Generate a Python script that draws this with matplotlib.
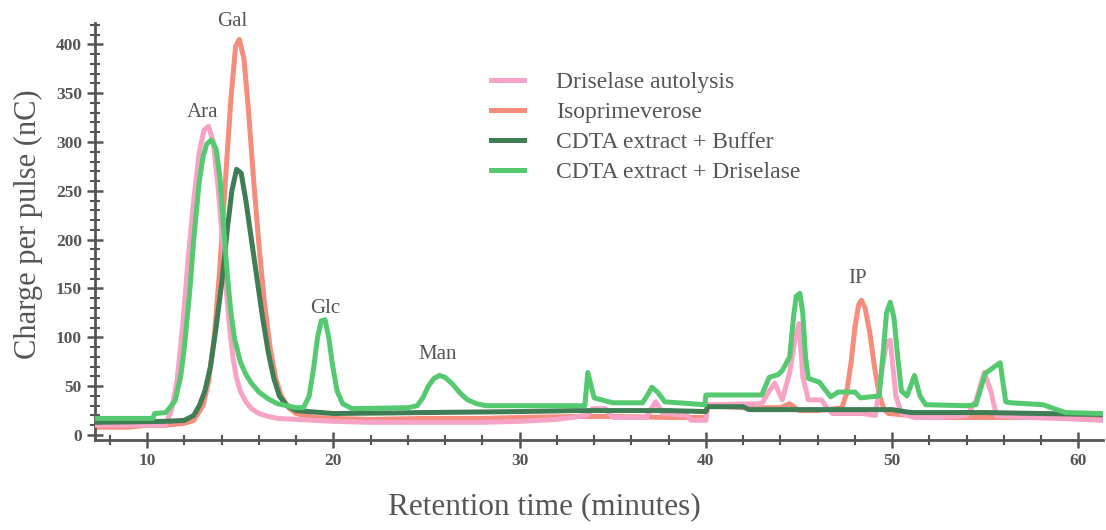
import numpy as np
import matplotlib
matplotlib.use('Agg')
import matplotlib.pyplot as plt
from matplotlib.ticker import MultipleLocator

# retention time (min) and charge (nC)
autolysis_t = [7.2, 10.0, 11.0, 11.3, 11.6, 11.9, 12.2, 12.5, 12.8, 13.05, 13.3, 13.55, 13.8, 14.0,
               14.2, 14.4, 14.6, 14.8, 15.0, 15.3, 15.6, 16.0, 16.5, 17.0, 18.0, 20.0, 22.0,
               25.0, 28.0, 30.0, 32.0, 33.6, 33.9, 34.6, 35.0, 36.8, 37.3, 37.7, 39.0, 39.2,
               40.0, 40.1, 43.0, 43.4, 43.7, 44.1, 44.5, 44.8, 45.0, 45.2, 45.5, 46.2, 46.5,
               46.8, 48.4, 49.1, 49.4, 49.7, 49.9, 50.2, 50.5, 51.2, 52.7, 54.0, 54.5, 54.95,
               55.3, 55.6, 57.0, 59.0, 61.3]
autolysis_y = [10, 10, 11, 25, 55, 110, 180, 240, 290, 312, 316, 300, 255, 210,
               160, 115, 80, 58, 45, 34, 27, 22, 19, 17, 16, 14, 13,
               13, 13, 14, 16, 20, 27, 27, 18, 18, 34, 22, 20, 15,
               15, 31, 32, 45, 53, 36, 64, 100, 114, 60, 36, 36, 28,
               22, 22, 20, 60, 95, 97, 40, 22, 18, 18, 20, 35, 64,
               45, 20, 18, 17, 15]

isoprim_t = [7.2, 9.0, 10.0, 11.0, 12.0, 12.5, 13.0, 13.3, 13.6, 13.9, 14.2, 14.5, 14.75, 14.95,
             15.2, 15.45, 15.7, 16.0, 16.3, 16.6, 16.9, 17.2, 17.6, 18.0, 19.0, 20.0, 22.0,
             25.0, 28.0, 30.0, 33.0, 35.0, 38.0, 40.0, 40.1, 42.0, 44.0, 44.5, 45.0, 46.0,
             47.0, 47.3, 47.55, 47.8, 48.0, 48.2, 48.35, 48.55, 48.8, 49.05, 49.3, 49.55, 49.8,
             51.0, 52.0, 56.0, 58.0, 61.3]
isoprim_y = [8, 8, 10, 10, 12, 15, 30, 55, 100, 170, 260, 345, 398, 405,
             385, 330, 265, 195, 135, 90, 58, 40, 28, 22, 18, 17, 16,
             17, 17, 18, 19, 19, 18, 18, 30, 28, 28, 32, 25, 25,
             27, 28, 42, 75, 110, 133, 138, 130, 105, 70, 42, 27, 22,
             20, 18, 18, 18, 18]

buffer_t = [7.2, 11.0, 12.0, 12.5, 12.8, 13.1, 13.4, 13.7, 14.0, 14.3, 14.55, 14.8, 15.05, 15.3,
            15.6, 15.9, 16.2, 16.5, 16.8, 17.1, 17.5, 18.0, 20.0, 25.0, 30.0, 33.0, 35.0,
            38.0, 40.0, 40.1, 42.0, 42.3, 50.0, 51.0, 55.0, 58.0, 61.3]
buffer_y = [13, 14, 15, 20, 30, 45, 70, 110, 155, 210, 250, 272, 268, 240,
            200, 160, 120, 85, 58, 40, 30, 25, 22, 23, 24, 25, 25,
            25, 24, 29, 29, 26, 26, 23, 23, 22, 21]

driselase_t = [7.2, 10.3, 10.4, 11.0, 11.5, 11.8, 12.0, 12.3, 12.5, 12.8, 13.0, 13.2, 13.45, 13.7,
               13.9, 14.1, 14.3, 14.5, 14.7, 15.0, 15.3, 15.6, 16.0, 16.5, 17.0, 18.0, 18.4,
               18.7, 18.95, 19.15, 19.35, 19.55, 19.75, 19.95, 20.2, 20.5, 21.0, 24.0, 24.5, 24.8,
               25.1, 25.4, 25.7, 26.0, 26.4, 26.8, 27.2, 27.7, 28.2, 32.0, 33.5, 33.66, 34.0,
               35.0, 36.6, 36.9, 37.1, 37.4, 37.8, 39.95, 40.0, 43.0, 43.4, 43.9, 44.1, 44.5,
               44.7, 44.85, 45.05, 45.2, 45.35, 45.5, 46.1, 46.7, 47.1, 48.0, 48.3, 49.3, 49.5,
               49.7, 49.9, 50.1, 50.3, 50.5, 50.8, 51.2, 51.5, 51.8, 54.0, 54.5, 55.0, 55.5,
               55.8, 56.1, 56.4, 58.1, 59.3, 61.3]
driselase_y = [17, 17, 22, 23, 35, 60, 90, 150, 200, 260, 285, 298, 302, 293,
               265, 215, 165, 125, 98, 75, 62, 53, 44, 37, 32, 28, 28,
               40, 70, 100, 117, 118, 100, 72, 45, 32, 27, 28, 30, 38,
               50, 58, 61, 59, 52, 43, 36, 32, 30, 30, 30, 64, 38,
               33, 33, 42, 49, 44, 34, 31, 41, 41, 59, 62, 66, 80,
               120, 142, 145, 125, 80, 58, 54, 39, 44, 44, 38, 40, 80,
               125, 136, 120, 80, 45, 40, 61, 40, 31, 30, 31, 63, 70,
               74, 34, 33, 31, 23, 22]

series = [
    ('Driselase autolysis', autolysis_t, autolysis_y, '#f6a3c6'),
    ('Isoprimeverose', isoprim_t, isoprim_y, '#f68c7c'),
    ('CDTA extract + Buffer', buffer_t, buffer_y, '#3f7d55'),
    ('CDTA extract + Driselase', driselase_t, driselase_y, '#55c96f'),
]

peak_names = ['Gal', 'Ara', 'Glc', 'Man', 'IP']
peak_x = [14.57, 12.96, 19.57, 25.6, 48.17]
peak_y = [423, 330, 130, 82, 160]

plt.rcParams['font.family'] = ['Liberation Serif', 'DejaVu Serif']

fig = plt.figure(figsize=(11.06, 5.30), dpi=100)
ax = fig.add_axes([0.0859, 0.170, 0.911, 0.787])

zorder = {'Isoprimeverose': 2, 'Driselase autolysis': 3,
          'CDTA extract + Buffer': 4, 'CDTA extract + Driselase': 5}
for name, t, y, c in series:
    ax.plot(t, y, color=c, lw=3.6, label=name, zorder=zorder[name])

for name, x, y in zip(peak_names, peak_x, peak_y):
    ax.text(x, y, name, ha='center', va='center', fontsize=15, color='#555555',
            clip_on=False)

ax.set_xlim(7.2, 61.3)
ax.set_ylim(-5, 422)
ax.xaxis.set_major_locator(MultipleLocator(10))
ax.xaxis.set_minor_locator(MultipleLocator(2))
ax.yaxis.set_major_locator(MultipleLocator(50))
ax.yaxis.set_minor_locator(MultipleLocator(10))

for s in ['top', 'right']:
    ax.spines[s].set_visible(False)
for s in ['left', 'bottom']:
    ax.spines[s].set_color('#555555')
    ax.spines[s].set_linewidth(2)

ax.tick_params(which='major', direction='inout', length=12, width=1.8, color='#555555',
               labelsize=12.5, labelcolor='#555555')
ax.tick_params(which='minor', direction='inout', length=7, width=1.5, color='#555555')
for lab in ax.get_xticklabels() + ax.get_yticklabels():
    lab.set_fontweight('bold')

ax.set_xlabel('Retention time (minutes)', fontsize=22.5, color='#555555')
ax.set_ylabel('Charge per pulse (nC)', fontsize=22, color='#555555')
ax.xaxis.set_label_coords(0.446, -0.125)
ax.yaxis.set_label_coords(-0.052, 0.518)

leg = ax.legend(loc='upper left', bbox_to_anchor=(0.384, 0.906), frameon=False,
                fontsize=17, handlelength=1.4, handletextpad=1.35, labelspacing=0.36,
                borderaxespad=0)
for txt in leg.get_texts():
    txt.set_color('#555555')

fig.savefig('out.png', dpi=100)
